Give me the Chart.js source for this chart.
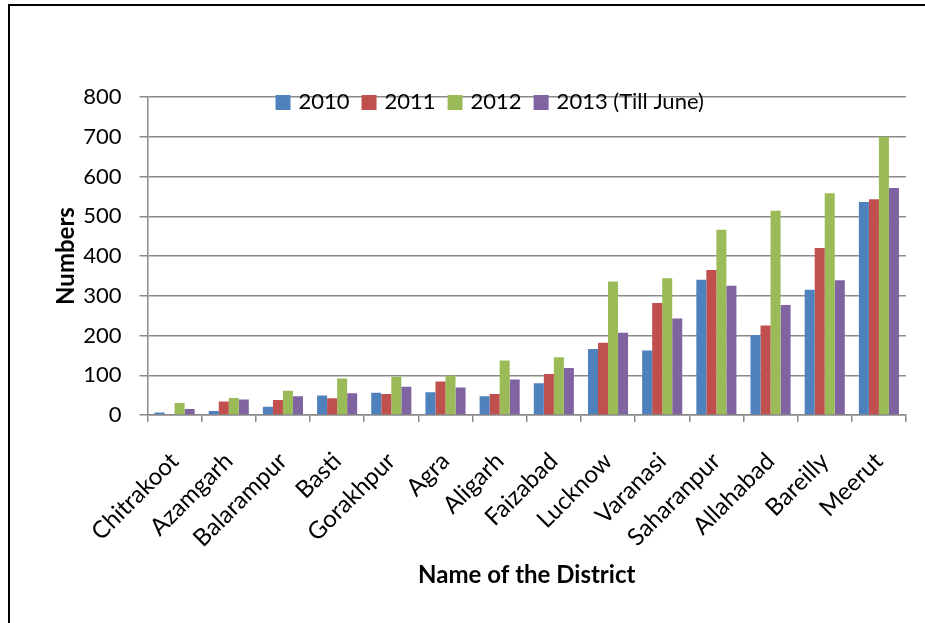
<!DOCTYPE html>
<html>
<head>
<meta charset="utf-8">
<title>District numbers 2010-2013</title>
<script src="https://cdn.jsdelivr.net/npm/chart.js@4.4.1/dist/chart.umd.min.js"></script>
<style>
  body { margin: 0; background: #fff; }
  #wrap { position: relative; width: 925px; height: 623px; overflow: hidden; }
  #frame {
    position: absolute; left: 8px; top: 4px; width: 1000px; height: 1000px;
    border-top: 2px solid #000; border-left: 2px solid #000;
  }
  #chart { position: absolute; left: 0; top: 0; }
</style>
</head>
<body>
<div id="wrap">
  <div id="frame"></div>
  <canvas id="chart" width="925" height="623"></canvas>
</div>
<script>
// Districts, ordered as in the report
const districts = ['Chitrakoot', 'Azamgarh', 'Balarampur', 'Basti', 'Gorakhpur', 'Agra', 'Aligarh',
  'Faizabad', 'Lucknow', 'Varanasi', 'Saharanpur', 'Allahabad', 'Bareilly', 'Meerut'];

// Yearly counts per district
const values2010 = [6, 10, 21, 49, 56, 57, 47, 80, 166, 162, 340, 201, 315, 536];
const values2011 = [0, 34, 38, 42, 53, 84, 53, 103, 182, 282, 365, 225, 420, 543];
const values2012 = [30, 43, 61, 92, 96, 99, 137, 145, 336, 344, 466, 514, 558, 700];
const values2013 = [15, 39, 47, 55, 71, 69, 89, 118, 207, 243, 325, 277, 339, 571];

const seriesLabels = ['2010', '2011', '2012', '2013 (Till June)'];
const seriesColors = ['#4F81BD', '#C0504D', '#9BBB59', '#8064A2'];

// Y axis range
const yMin = 0;
const yMax = 800;
const yStep = 100;

const FONT = 'Lato, "Open Sans", sans-serif';
const GRID = '#8a8a8a';

// Legend drawn over the top gridline, inside the plot
const insideLegend = {
  id: 'insideLegend',
  afterDatasetsDraw(chart) {
    const ctx = chart.ctx;
    const area = chart.chartArea;
    ctx.save();
    ctx.font = '22px ' + FONT;
    ctx.textBaseline = 'middle';
    let x = area.left + 128;
    const y = area.top + 5;
    chart.data.datasets.forEach(ds => {
      ctx.fillStyle = ds.backgroundColor;
      ctx.fillRect(x, y - 7, 15, 15);
      x += 23;
      ctx.fillStyle = '#000';
      ctx.fillText(ds.label, x, y);
      x += ctx.measureText(ds.label).width + 12;
    });
    ctx.restore();
  }
};

const allValues = [values2010, values2011, values2012, values2013];

new Chart(document.getElementById('chart'), {
  type: 'bar',
  data: {
    labels: districts,
    datasets: allValues.map((vals, i) => ({
      label: seriesLabels[i],
      data: vals,
      backgroundColor: seriesColors[i],
      borderWidth: 0,
      categoryPercentage: 0.74,
      barPercentage: 1
    }))
  },
  options: {
    responsive: false,
    animation: false,
    layout: { padding: { left: 0, right: 19, top: 97, bottom: 0 } },
    plugins: {
      legend: { display: false },
      tooltip: { enabled: false }
    },
    scales: {
      x: {
        afterFit: scale => { scale.height = 208; },
        grid: {
          offset: true,
          drawOnChartArea: false,
          drawTicks: true,
          tickLength: 7,
          color: GRID,
          lineWidth: 1.5
        },
        border: { color: GRID, width: 1.5 },
        ticks: {
          autoSkip: false,
          maxRotation: 45,
          minRotation: 45,
          padding: 25,
          color: '#000',
          font: { family: FONT, size: 24 }
        },
        title: {
          display: true,
          text: 'Name of the District',
          color: '#000',
          padding: { top: 0, bottom: 33 },
          font: { family: FONT, size: 24, weight: 'bold' }
        }
      },
      y: {
        min: yMin,
        max: yMax,
        afterFit: scale => { scale.width = 147.5; },
        grid: {
          color: GRID,
          lineWidth: 1.5,
          tickLength: 8
        },
        border: { color: GRID, width: 1.5 },
        ticks: {
          stepSize: yStep,
          padding: 18,
          color: '#000',
          font: { family: FONT, size: 22 }
        },
        title: {
          display: true,
          text: 'Numbers',
          color: '#000',
          padding: { top: 52, bottom: 0 },
          font: { family: FONT, size: 24, weight: 'bold' }
        }
      }
    }
  },
  plugins: [insideLegend]
});
</script>
</body>
</html>
